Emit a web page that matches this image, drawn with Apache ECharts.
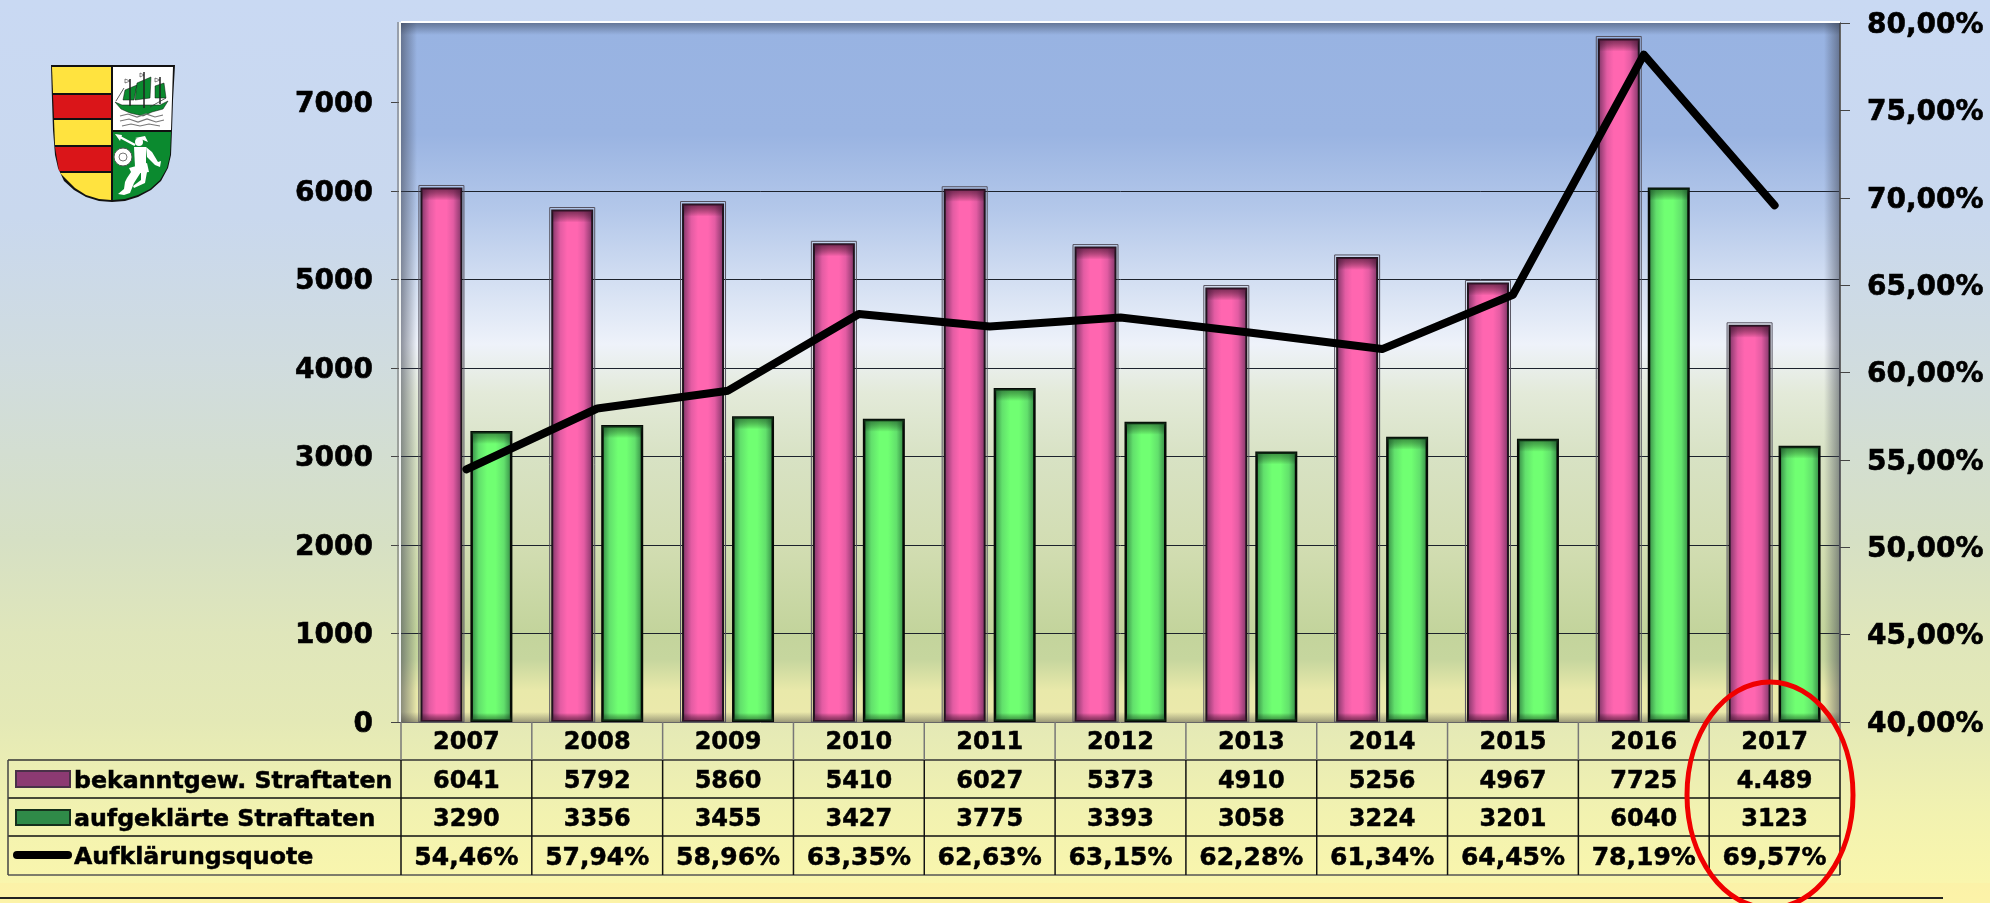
<!DOCTYPE html>
<html>
<head>
<meta charset="utf-8">
<style>
html,body{margin:0;padding:0;width:100%;height:100%;overflow:hidden}
#chart{width:1990px;height:903px}
</style>
<script src="https://cdn.jsdelivr.net/npm/echarts@6/dist/echarts.min.js"></script>
</head>
<body>
<div id="chart"></div>
<script>
// Daten
var years = ['2007','2008','2009','2010','2011','2012','2013','2014','2015','2016','2017'];
var bekannt = [6041,5792,5860,5410,6027,5373,4910,5256,4967,7725,4489];
var aufgeklaert = [3290,3356,3455,3427,3775,3393,3058,3224,3201,6040,3123];
var quote = [54.46,57.94,58.96,63.35,62.63,63.15,62.28,61.34,64.45,78.19,69.57];
var bekanntLabels = ['6041','5792','5860','5410','6027','5373','4910','5256','4967','7725','4.489'];
var seriesNames = ['bekanntgew. Straftaten','aufgeklärte Straftaten','Aufklärungsquote'];
var leftTicks = [0,1000,2000,3000,4000,5000,6000,7000];

var FONT = '"DejaVu Sans"';
var gridLeft = 401, gridRight = 1840, gridTop = 23, gridBottom = 722;
var rowY = [722,760,798,836,875];
var tableLeft = 8;
var colW = (gridRight - gridLeft) / years.length;
var barW = 42, barOff = 25;

function vgrad(stops){
  return new echarts.graphic.LinearGradient(0,0,0,1,stops.map(function(s){return {offset:s[0],color:s[1]}}));
}
function hgrad(stops){
  return new echarts.graphic.LinearGradient(0,0,1,0,stops.map(function(s){return {offset:s[0],color:s[1]}}));
}

var g = [];

// Innenschatten der Zeichenflaeche
g.push({type:'rect',z:1,silent:true,shape:{x:gridLeft,y:gridTop,width:16,height:gridBottom-gridTop},
  style:{fill:hgrad([[0,'rgba(60,65,80,0.55)'],[1,'rgba(60,65,80,0)']])}});
g.push({type:'rect',z:1,silent:true,shape:{x:gridRight-16,y:gridTop,width:16,height:gridBottom-gridTop},
  style:{fill:hgrad([[0,'rgba(60,65,80,0)'],[1,'rgba(60,65,80,0.55)']])}});
g.push({type:'rect',z:1,silent:true,shape:{x:gridLeft,y:gridTop,width:gridRight-gridLeft,height:12},
  style:{fill:vgrad([[0,'rgba(50,60,80,0.5)'],[1,'rgba(50,60,80,0)']])}});
g.push({type:'rect',z:1,silent:true,shape:{x:gridLeft,y:gridBottom-10,width:gridRight-gridLeft,height:10},
  style:{fill:vgrad([[0,'rgba(60,60,60,0)'],[1,'rgba(60,60,60,0.45)']])}});
// weisser Rand oben / links
g.push({type:'line',z:1,silent:true,shape:{x1:gridLeft,y1:22,x2:gridRight,y2:22},style:{stroke:'#fff',lineWidth:2}});
g.push({type:'line',z:1,silent:true,shape:{x1:gridLeft-1,y1:22,x2:gridLeft-1,y2:gridBottom},style:{stroke:'#f0f3f2',lineWidth:2}});
g.push({type:'line',z:1,silent:true,shape:{x1:gridLeft-3,y1:22,x2:gridLeft-3,y2:gridBottom},style:{stroke:'#666',lineWidth:1}});

// Tabelle
function hline(x1,x2,y,c,w){
  g.push({type:'line',z:5,silent:true,shape:{x1:x1,y1:y,x2:x2,y2:y},style:{stroke:c,lineWidth:w}});
}
function vline(x,y1,y2,c,w){
  g.push({type:'line',z:5,silent:true,shape:{x1:x,y1:y1,x2:x,y2:y2},style:{stroke:c,lineWidth:w}});
}
function cell(txt,x,y,align,size){
  g.push({type:'text',z:6,silent:true,x:x,y:y,style:{text:txt,fill:'#000',stroke:'#000',lineWidth:0.5,
    font:'bold '+size+'px '+FONT,textAlign:align,textVerticalAlign:'middle'}});
}
hline(tableLeft,gridRight,rowY[1],'#333',1.5);
hline(tableLeft,gridRight,rowY[2],'#111',1.5);
hline(tableLeft,gridRight,rowY[3],'#111',1.5);
hline(tableLeft,gridRight,rowY[4],'#555',1.5);
vline(tableLeft,rowY[1],rowY[4],'#444',1.5);
for(var i=0;i<=years.length;i++){
  var vx = gridLeft + i*colW;
  vline(vx,rowY[0],rowY[1],'#777',1.5);
  vline(vx,rowY[1],rowY[4],'#111',1.5);
}
years.forEach(function(y,i){
  var cx = gridLeft + (i+0.5)*colW;
  cell(y,cx,743,'center',24);
  cell(bekanntLabels[i],cx,782,'center',24);
  cell(String(aufgeklaert[i]),cx,820,'center',24);
  cell(quote[i].toFixed(2).replace('.',',')+'%',cx,858,'center',25);
});
cell(seriesNames[0],74,782,'left',23.7);
cell(seriesNames[1],74,820,'left',23.7);
cell(seriesNames[2],74,858,'left',23.7);

// Legendensymbole
g.push({type:'rect',z:6,silent:true,shape:{x:16,y:771,width:54,height:16},
  style:{fill:'#8c3a72',stroke:'#4a3048',lineWidth:2}});
g.push({type:'rect',z:6,silent:true,shape:{x:16,y:810,width:54,height:15},
  style:{fill:'#2f8a48',stroke:'#16301c',lineWidth:2}});
g.push({type:'line',z:6,silent:true,shape:{x1:17,y1:855,x2:68,y2:855},
  style:{stroke:'#000',lineWidth:8,lineCap:'round'}});

// Linie unten, Ellipse
hline(0,1943,898,'#222',2);
g.push({type:'rect',z:0,silent:true,shape:{x:0,y:883,width:1990,height:20},style:{fill:'rgba(255,235,160,0.35)'}});
g.push({type:'ellipse',z:20,silent:true,shape:{cx:1770,cy:795,rx:83,ry:113},
  style:{fill:'none',stroke:'#f00000',lineWidth:5}});

// Wappen
function poly(pts,fill,stroke,w){
  g.push({type:'polygon',z:7,silent:true,shape:{points:pts},style:{fill:fill,stroke:stroke||null,lineWidth:w||0}});
}
function pline(pts,c,w){
  g.push({type:'polyline',z:8,silent:true,shape:{points:pts},style:{stroke:c,lineWidth:w,fill:null}});
}
poly([[51,65],[175,65],[173,100],[172,130],[171,155],[168,168],[161,181],[151,190],[138,197],[125,201],[112,202],[99,201],[86,197],[74,190],[64,181],[58,168],[55,155],[53,130],[52,100]],'#111');
poly([[52,67],[111,67],[111,93],[53,93]],'#ffe33f');
poly([[53,95],[111,95],[111,118],[54,118]],'#da1519');
poly([[54,120],[111,120],[111,145],[55,145]],'#ffe33f');
poly([[55,147],[111,147],[111,171],[59,171]],'#da1519');
poly([[60,173],[111,173],[111,200],[99,199],[86,195],[75,188],[66,179]],'#ffe33f');
poly([[113,67],[173,67],[171,130],[113,130]],'#fff');
poly([[113,132],[171,132],[170,155],[167,168],[160,180],[150,189],[138,195],[125,199],[113,200]],'#0b8a2f');
// Schiff
pline([[130,79],[130,106]],'#222',1.5);
pline([[144,72],[144,108]],'#222',1.5);
pline([[160,77],[160,104]],'#222',1.5);
poly([[125,79],[130,81],[125,83]],'#fff','#333',0.6);
poly([[140,73],[144,75],[140,77]],'#fff','#333',0.6);
poly([[155,78],[160,80],[155,82]],'#fff','#333',0.6);
poly([[125,90],[137,85],[134,100],[123,100]],'#0b8a2f','#111',0.5);
poly([[137,83],[151,77],[150,98],[135,100]],'#0b8a2f','#111',0.5);
poly([[155,86],[164,83],[166,98],[155,98]],'#0b8a2f','#111',0.5);
poly([[115,102],[122,105],[160,105],[168,101],[163,109],[152,112],[143,116],[130,113],[121,109]],'#0b8a2f','#111',0.5);
pline([[124,88],[116,101]],'#333',0.8);
pline([[150,107],[166,98]],'#333',0.8);
pline([[120,116],[128,114],[137,117],[146,114],[155,117],[163,115]],'#777',1.2);
pline([[120,121],[129,119],[138,122],[147,119],[156,122],[164,120]],'#777',1.2);
pline([[122,126],[131,124],[140,126],[149,124],[160,126]],'#777',1.2);
// Krieger
pline([[118,136],[135,145]],'#fff',2.5);
poly([[115,134],[122,135],[120,141]],'#fff');
g.push({type:'circle',z:8,silent:true,shape:{cx:123,cy:157,r:9},style:{fill:'#fff',stroke:'#555',lineWidth:1}});
g.push({type:'circle',z:8,silent:true,shape:{cx:123,cy:157,r:4},style:{fill:'none',stroke:'#777',lineWidth:1}});
g.push({type:'circle',z:8,silent:true,shape:{cx:139,cy:142,r:4},style:{fill:'#fff'}});
poly([[135,138],[145,136],[148,142],[143,140]],'#fff');
poly([[134,147],[146,147],[146,165],[135,167]],'#fff');
poly([[146,147],[152,152],[158,162],[161,161],[160,167],[155,165],[147,157]],'#fff');
poly([[129,168],[147,163],[149,172],[132,174]],'#fff');
poly([[131,172],[141,172],[134,183],[130,193],[124,195],[118,194],[124,189],[125,182],[127,178]],'#fff');
poly([[141,172],[147,172],[145,183],[134,188],[133,186],[141,180]],'#fff');

// Schattierung oben/unten der Balken
function barShade(values,offset,width,topColor,outline){
  return {
    type:'custom',z:3,silent:true,clip:false,
    data:values.map(function(v,i){return [i,v]}),
    encode:{x:0,y:1},
    renderItem:function(params,api){
      var top = api.coord([api.value(0),api.value(1)]);
      var base = api.coord([api.value(0),0]);
      var x = top[0]+offset-width/2;
      var kids = [
        {type:'rect',shape:{x:x+1,y:top[1]+1,width:width-2,height:12},
          style:{fill:vgrad([[0,topColor],[1,'rgba(0,0,0,0)']])}},
        {type:'rect',shape:{x:x+1,y:base[1]-9,width:width-2,height:8},
          style:{fill:vgrad([[0,'rgba(0,0,0,0)'],[1,topColor]])}}
      ];
      if(outline){
        kids.push({type:'rect',shape:{x:x-1.5,y:top[1]-2,width:width+3,height:base[1]-top[1]+2},
          style:{fill:'none',stroke:outline,lineWidth:1}});
      }
      return {type:'group',children:kids};
    }
  };
}

var chart = echarts.init(document.getElementById('chart'),null,{renderer:'canvas'});
var option = {
  animation:false,
  backgroundColor:vgrad([[0,'#c9d9f3'],[0.24,'#c9d8ee'],[0.4,'#d0dcdf'],[0.6,'#d6e0c4'],[0.7,'#dfe6bb'],[0.8,'#e4e9b6'],[0.9,'#f2f2b0'],[1,'#fbf7ac']]),
  grid:{left:gridLeft,top:gridTop,width:gridRight-gridLeft,height:gridBottom-gridTop,show:true,borderWidth:0,
    backgroundColor:vgrad([[0,'#98b3e2'],[0.16,'#9ab4e2'],[0.27,'#b4c8ea'],[0.38,'#d6e1f3'],[0.46,'#eef2fa'],[0.53,'#e3ead9'],[0.62,'#d8e2c4'],[0.75,'#d2ddb2'],[0.87,'#c3d49c'],[0.91,'#c6d69e'],[0.955,'#e9e9aa'],[1,'#ece9ac']])},
  xAxis:{type:'category',data:years,
    axisLine:{show:true,lineStyle:{color:'#666',width:1}},
    axisTick:{show:false},axisLabel:{show:false},splitLine:{show:false}},
  yAxis:[{
    type:'value',min:0,max:7900,interval:1000,position:'left',
    axisLine:{show:false},
    axisTick:{show:true,length:10,customValues:leftTicks,lineStyle:{color:'#444'}},
    axisLabel:{show:true,margin:28,customValues:leftTicks,color:'#000',fontFamily:FONT,fontWeight:'bold',fontSize:28,
      textBorderColor:'#000',textBorderWidth:0.6,verticalAlign:'top',lineHeight:5,
      formatter:function(v){return String(v)}},
    splitLine:{show:true,showMaxLine:false,showMinLine:false,lineStyle:{color:'#1c222c',width:1}}
  },{
    type:'value',min:40,max:80,interval:5,position:'right',
    axisLine:{show:true,lineStyle:{color:'#666',width:2}},
    axisTick:{show:true,length:10,lineStyle:{color:'#444'}},
    axisLabel:{show:true,margin:27,color:'#000',fontFamily:FONT,fontWeight:'bold',fontSize:28,
      textBorderColor:'#000',textBorderWidth:0.6,verticalAlign:'top',lineHeight:5,
      formatter:function(v){return v.toFixed(2).replace('.',',')+'%'}},
    splitLine:{show:false}
  }],
  series:[{
    name:seriesNames[0],type:'bar',data:bekannt,barWidth:barW,barGap:'19%',z:2,
    itemStyle:{borderColor:'#20141e',borderWidth:2,
      color:hgrad([[0,'#7a3364'],[0.22,'#e35ca3'],[0.38,'#ff66b0'],[0.62,'#ff66b0'],[0.78,'#e35ca3'],[1,'#7a3364']])}
  },{
    name:seriesNames[1],type:'bar',data:aufgeklaert,barWidth:barW,z:2,
    itemStyle:{borderColor:'#060a06',borderWidth:2.5,
      color:hgrad([[0,'#2f7f40'],[0.2,'#62e06c'],[0.4,'#70ff72'],[0.6,'#70ff72'],[0.8,'#62e06c'],[1,'#2f7f40']])}
  },
  barShade(bekannt,-barOff,barW,'rgba(70,20,50,0.7)','#55525f'),
  barShade(aufgeklaert,barOff,barW,'rgba(20,70,30,0.6)',null),
  {
    name:seriesNames[2],type:'line',yAxisIndex:1,data:quote,z:4,symbol:'none',smooth:false,
    lineStyle:{color:'#000',width:8,cap:'round',join:'round'}
  }],
  graphic:{elements:g}
};
chart.setOption(option);
</script>
</body>
</html>
